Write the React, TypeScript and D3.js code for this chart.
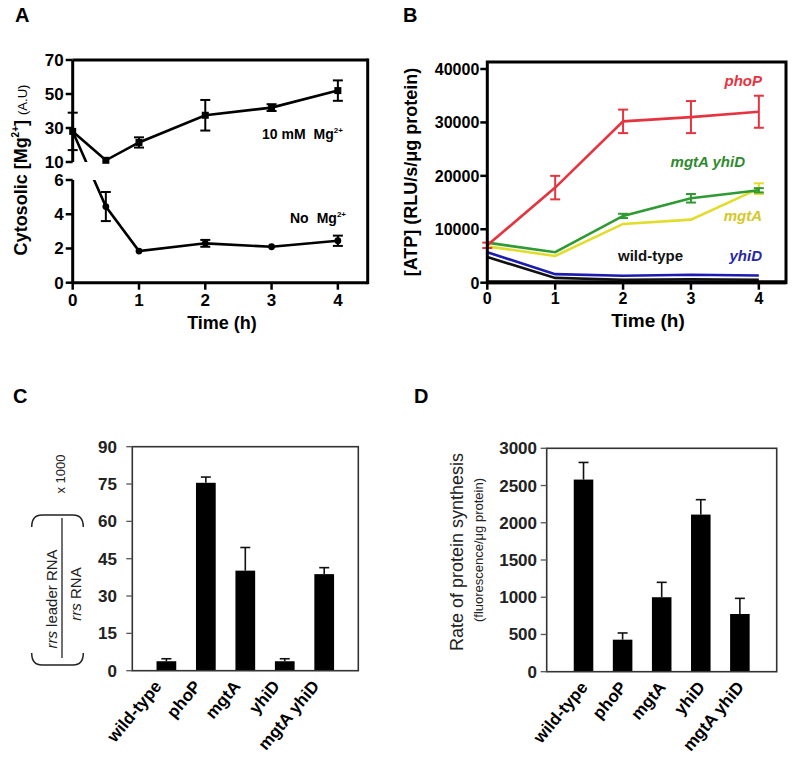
import React from 'react';
import * as d3 from 'd3';

const FONT = '"Liberation Sans", Arial, Helvetica, sans-serif';

// ---------- Panel A data ----------
const timesA = [0, 0.5, 1, 2, 3, 4];
const mg10Mean = [28, 11, 21.5, 37.5, 42, 52];
const mg10Err = [11, 1, 3, 9, 2, 6];
const noMgMean = [28, 4.45, 1.85, 2.3, 2.1, 2.45];
const noMgErr = [0, 0.85, 0.08, 0.2, 0.06, 0.3];
const noMgOnUpperAxis = [true, false, false, false, false, false];
const ticksAUpper = [10, 30, 50, 70];
const ticksALower = [0, 2, 4, 6];
const ticksTime = [0, 1, 2, 3, 4];

// ---------- Panel B data ----------
const timesB = [0, 1, 2, 3, 4];
const atpPhoP = [7000, 17800, 30200, 31000, 32000];
const atpPhoPErr = [500, 2200, 2200, 3000, 3000];
const atpMgtAYhiD = [7500, 5700, 12500, 15800, 17300];
const atpMgtAYhiDErr = [300, 300, 400, 800, 400];
const atpMgtA = [6800, 5000, 11000, 11800, 17600];
const atpMgtAErr = [300, 300, 300, 300, 1000];
const atpWild = [4800, 900, 550, 650, 550];
const atpYhiD = [5700, 1600, 1300, 1500, 1350];
const ticksB = [0, 10000, 20000, 30000, 40000];

// ---------- Panel C / D data ----------
const strains = ['wild-type', 'phoP', 'mgtA', 'yhiD', 'mgtA yhiD'];
const rrsMean = [3.8, 75.5, 40.2, 3.8, 38.8];
const rrsErr = [1.0, 2.3, 9.3, 1.0, 2.6];
const ticksC = [0, 15, 30, 45, 60, 75, 90];
const synthMean = [2580, 430, 1000, 2110, 775];
const synthErr = [230, 90, 200, 200, 210];
const ticksD = [0, 500, 1000, 1500, 2000, 2500, 3000];

const RED = '#e5343f';
const GREEN = '#2f9a34';
const YELLOW = '#e2dc2a';
const BLUE = '#1c1cb0';

function PanelA() {
  const x = d3.scaleLinear().domain([0, 4.45]).range([72.7, 367.7]);
  const yUp = d3.scaleLinear().domain([10, 70]).range([162, 60]);
  const yLo = d3.scaleLinear().domain([0, 6]).range([282.7, 180]);
  const mg10Pts: [number, number][] = timesA.map((t, i) => [x(t), yUp(mg10Mean[i])]);
  const noPts: [number, number][] = timesA.map((t, i) => [
    x(t),
    noMgOnUpperAxis[i] ? yUp(noMgMean[i]) : yLo(noMgMean[i]),
  ]);
  const line = d3.line();
  const x0 = x(0);
  const x1 = 367.7;
  return (
    <g>
      <defs>
        <clipPath id="gapClip">
          <rect x={0} y={0} width={400} height={yUp(10)} />
          <rect x={0} y={yLo(6)} width={400} height={200} />
        </clipPath>
      </defs>
      <text x={15} y={22} fontSize={20} fontWeight="bold" fontFamily={FONT}>A</text>
      {/* frame */}
      <line x1={x0} x2={x1} y1={yUp(70)} y2={yUp(70)} stroke="#000" strokeWidth={3} />
      <line x1={x1} x2={x1} y1={yUp(70) - 1.5} y2={yLo(0) + 1.5} stroke="#000" strokeWidth={3} />
      <line x1={x0} x2={x1} y1={yLo(0)} y2={yLo(0)} stroke="#000" strokeWidth={3} />
      <line x1={x0} x2={x0} y1={yUp(70)} y2={yUp(10)} stroke="#000" strokeWidth={3} />
      <line x1={x0} x2={x0} y1={yLo(6)} y2={yLo(0)} stroke="#000" strokeWidth={3} />
      {ticksAUpper.map((v) => (
        <g key={'u' + v}>
          <line x1={x0 - 7} x2={x0} y1={yUp(v)} y2={yUp(v)} stroke="#000" strokeWidth={2.5} />
          <text x={x0 - 9} y={yUp(v) + 6} textAnchor="end" fontSize={17} fontWeight="bold" fontFamily={FONT}>{v}</text>
        </g>
      ))}
      {ticksALower.map((v) => (
        <g key={'l' + v}>
          <line x1={x0 - 7} x2={x0} y1={yLo(v)} y2={yLo(v)} stroke="#000" strokeWidth={2.5} />
          <text x={x0 - 9} y={yLo(v) + 6} textAnchor="end" fontSize={17} fontWeight="bold" fontFamily={FONT}>{v}</text>
        </g>
      ))}
      {ticksTime.map((t) => (
        <g key={'t' + t}>
          <line x1={x(t)} x2={x(t)} y1={yLo(0)} y2={yLo(0) + 7} stroke="#000" strokeWidth={2.5} />
          <text x={x(t)} y={306} textAnchor="middle" fontSize={17} fontWeight="bold" fontFamily={FONT}>{t}</text>
        </g>
      ))}
      <text x={222} y={329} textAnchor="middle" fontSize={18} fontWeight="bold" fontFamily={FONT}>Time (h)</text>
      <text transform={`translate(27,170) rotate(-90)`} textAnchor="middle" fontSize={18} fontWeight="bold" fontFamily={FONT}>
        Cytosolic [Mg<tspan fontSize={10} dy={-8}>2+</tspan><tspan dy={8}>] </tspan>
        <tspan fontSize={13} fontWeight="normal">(A.U)</tspan>
      </text>
      {/* lines */}
      <path d={line(mg10Pts) || ''} fill="none" stroke="#000" strokeWidth={2.6} />
      <path d={line(noPts) || ''} fill="none" stroke="#000" strokeWidth={2.6} clipPath="url(#gapClip)" />
      {/* error bars */}
      {timesA.map((t, i) => {
        const e = mg10Err[i];
        if (e < 1.5) return null;
        const yt = yUp(mg10Mean[i] + e);
        const yb = yUp(mg10Mean[i] - e);
        return (
          <g key={'e1' + i} stroke="#000" strokeWidth={2}>
            <line x1={x(t)} x2={x(t)} y1={yt} y2={yb} />
            <line x1={x(t) - 5} x2={x(t) + 5} y1={yt} y2={yt} />
            <line x1={x(t) - 5} x2={x(t) + 5} y1={yb} y2={yb} />
          </g>
        );
      })}
      {timesA.map((t, i) => {
        const e = noMgErr[i];
        if (noMgOnUpperAxis[i] || e < 0.1) return null;
        const yt = yLo(noMgMean[i] + e);
        const yb = yLo(noMgMean[i] - e);
        return (
          <g key={'e2' + i} stroke="#000" strokeWidth={2}>
            <line x1={x(t)} x2={x(t)} y1={yt} y2={yb} />
            <line x1={x(t) - 5} x2={x(t) + 5} y1={yt} y2={yt} />
            <line x1={x(t) - 5} x2={x(t) + 5} y1={yb} y2={yb} />
          </g>
        );
      })}
      {mg10Pts.map((p, i) => (
        <rect key={'m1' + i} x={p[0] - 3.5} y={p[1] - 3.5} width={7} height={7} fill="#000" />
      ))}
      {noPts.map((p, i) =>
        noMgOnUpperAxis[i] ? null : <circle key={'m2' + i} cx={p[0]} cy={p[1]} r={3.4} fill="#000" />
      )}
      <text x={262} y={138.5} fontSize={14} fontWeight="bold" fontFamily={FONT}>
        10 mM<tspan dx={8}>Mg</tspan><tspan fontSize={8} dy={-6}>2+</tspan>
      </text>
      <text x={290} y={222.5} fontSize={14} fontWeight="bold" fontFamily={FONT}>
        No<tspan dx={8}>Mg</tspan><tspan fontSize={8} dy={-6}>2+</tspan>
      </text>
    </g>
  );
}

function PanelB() {
  const x = d3.scaleLinear().domain([0, 4.4]).range([487.3, 786]);
  const y = d3.scaleLinear().domain([0, 40000]).range([282.7, 69]);
  const top = 62;
  const line = d3.line<number>().x((_, i) => x(timesB[i])).y((v) => y(v));
  const series = [
    { vals: atpWild, err: null as number[] | null, color: '#111' },
    { vals: atpYhiD, err: null, color: BLUE },
    { vals: atpMgtA, err: atpMgtAErr, color: YELLOW },
    { vals: atpMgtAYhiD, err: atpMgtAYhiDErr, color: GREEN },
    { vals: atpPhoP, err: atpPhoPErr, color: RED },
  ];
  return (
    <g>
      <text x={403} y={22} fontSize={20} fontWeight="bold" fontFamily={FONT}>B</text>
      {series.map((s, k) => (
        <g key={'s' + k}>
          <path d={line(s.vals) || ''} fill="none" stroke={s.color} strokeWidth={2.6} />
          {s.err &&
            s.vals.map((v, i) => {
              const e = s.err![i];
              if (e < 400) return null;
              const xt = x(timesB[i]);
              const yt = y(v + e);
              const yb = y(v - e);
              return (
                <g key={'e' + i} stroke={s.color} strokeWidth={2}>
                  <line x1={xt} x2={xt} y1={yt} y2={yb} />
                  <line x1={xt - 5} x2={xt + 5} y1={yt} y2={yt} />
                  <line x1={xt - 5} x2={xt + 5} y1={yb} y2={yb} />
                </g>
              );
            })}
        </g>
      ))}
      <rect x={x(0)} y={top} width={786 - x(0)} height={y(0) - top} fill="none" stroke="#000" strokeWidth={3} />
      <line x1={x(0)} x2={786} y1={y(0) - 0.5} y2={y(0) - 0.5} stroke="#000" strokeWidth={4} />
      {ticksB.map((v) => (
        <g key={'yb' + v}>
          <line x1={x(0) - 7} x2={x(0)} y1={y(v)} y2={y(v)} stroke="#000" strokeWidth={2.5} />
          <text x={x(0) - 8} y={y(v) + 6} textAnchor="end" fontSize={16} fontWeight="bold" fontFamily={FONT}>{v}</text>
        </g>
      ))}
      {ticksTime.map((t) => (
        <g key={'xb' + t}>
          <line x1={x(t)} x2={x(t)} y1={y(0)} y2={y(0) + 7} stroke="#000" strokeWidth={2.5} />
          <text x={x(t)} y={304} textAnchor="middle" fontSize={16} fontWeight="bold" fontFamily={FONT}>{t}</text>
        </g>
      ))}
      <text x={648} y={327} textAnchor="middle" fontSize={19} fontWeight="bold" fontFamily={FONT}>Time (h)</text>
      <text transform={`translate(416.5,172) rotate(-90)`} textAnchor="middle" fontSize={18} fontWeight="bold" fontFamily={FONT}>
        [ATP] (RLU/s/μg protein)
      </text>
      <text x={762} y={86} textAnchor="end" fontSize={15} fontWeight="bold" fontStyle="italic" fill={RED} fontFamily={FONT}>phoP</text>
      <text x={745} y={167} textAnchor="end" fontSize={15} fontWeight="bold" fontStyle="italic" fill="#2e8a2e" fontFamily={FONT}>mgtA yhiD</text>
      <text x={762} y={221} textAnchor="end" fontSize={15} fontWeight="bold" fontStyle="italic" fill="#d6c826" fontFamily={FONT}>mgtA</text>
      <text x={683} y={261} textAnchor="end" fontSize={15} fontWeight="bold" fill="#111" fontFamily={FONT}>wild-type</text>
      <text x={762} y={261} textAnchor="end" fontSize={15} fontWeight="bold" fontStyle="italic" fill="#2727a8" fontFamily={FONT}>yhiD</text>
    </g>
  );
}

function BarPanel(props: {
  left: number; right: number; top: number; bottom: number; pad: number;
  max: number; ticks: number[]; means: number[]; errs: number[]; labelShift: number; tickLabelX: number;
}) {
  const { left, right, top, bottom, pad, max, ticks, means, errs, labelShift, tickLabelX } = props;
  const y = d3.scaleLinear().domain([0, max]).range([bottom, top]);
  const x = d3.scaleBand<string>().domain(strains).range([left + pad, right - pad]).padding(0.5);
  return (
    <g>
      {strains.map((s, i) => {
        const cx = (x(s) as number) + x.bandwidth() / 2;
        const yt = y(means[i] + errs[i]);
        return (
          <g key={s}>
            <line x1={cx} x2={cx} y1={y(means[i])} y2={yt} stroke="#111" strokeWidth={1.6} />
            <line x1={cx - 5} x2={cx + 5} y1={yt} y2={yt} stroke="#111" strokeWidth={1.6} />
            <rect x={x(s)} y={y(means[i])} width={x.bandwidth()} height={bottom - y(means[i])} fill="#000" />
            <text
              transform={`translate(${cx + labelShift},${bottom + 16}) rotate(-50)`}
              textAnchor="end"
              fontSize={17}
              fontWeight="bold"
              fontFamily={FONT}
            >
              {s}
            </text>
          </g>
        );
      })}
      <rect x={left} y={top} width={right - left} height={bottom - top} fill="none" stroke="#333" strokeWidth={1.6} />
      {ticks.map((v) => (
        <g key={v}>
          <line x1={left - 6} x2={left} y1={y(v)} y2={y(v)} stroke="#555" strokeWidth={1.3} />
          <text x={tickLabelX} y={y(v) + 6} textAnchor="end" fontSize={17} fontWeight="bold" fill="#222" fontFamily={FONT}>{v}</text>
        </g>
      ))}
    </g>
  );
}

function PanelC() {
  return (
    <g>
      <text x={13} y={403} fontSize={20} fontWeight="bold" fontFamily={FONT}>C</text>
      <BarPanel left={132.3} right={358.3} top={446.7} bottom={670.7} pad={4.5} max={90} ticks={ticksC}
        means={rrsMean} errs={rrsErr} labelShift={-4} tickLabelX={117} />
      <g fontFamily={FONT} fill="#222">
        <text transform="translate(57,599) rotate(-90)" textAnchor="middle" fontSize={15}>
          <tspan fontStyle="italic">rrs</tspan> leader RNA
        </text>
        <text transform="translate(80.5,594) rotate(-90)" textAnchor="middle" fontSize={15}>
          <tspan fontStyle="italic">rrs</tspan> RNA
        </text>
        <text transform="translate(64.5,474) rotate(-90)" textAnchor="middle" fontSize={13}>x 1000</text>
      </g>
      <line x1={62} x2={62} y1={518} y2={658} stroke="#222" strokeWidth={1.3} />
      <path d="M31.7,527 Q31.7,515 42,515 L73,515 Q83.3,515 83.3,527" fill="none" stroke="#222" strokeWidth={1.5} />
      <path d="M31.7,653 Q31.7,665 42,665 L73,665 Q83.3,665 83.3,653" fill="none" stroke="#222" strokeWidth={1.5} />
    </g>
  );
}

function PanelD() {
  return (
    <g>
      <text x={414} y={403} fontSize={20} fontWeight="bold" fontFamily={FONT}>D</text>
      <BarPanel left={546.7} right={776.7} top={448.3} bottom={671.7} pad={7.5} max={3000} ticks={ticksD}
        means={synthMean} errs={synthErr} labelShift={5} tickLabelX={537} />
      <text transform="translate(463,552) rotate(-90)" textAnchor="middle" fontSize={18} fill="#222" fontFamily={FONT}>
        Rate of protein synthesis
      </text>
      <text transform="translate(483,550) rotate(-90)" textAnchor="middle" fontSize={13} fill="#222" fontFamily={FONT}>
        (fluorescence/μg protein)
      </text>
    </g>
  );
}

export default function App() {
  return (
    <svg width={800} height={771} viewBox="0 0 800 771"
      style={{ position: 'absolute', left: 0, top: 0, background: '#fff' }}>
      <rect width={800} height={771} fill="#fff" />
      <PanelA />
      <PanelB />
      <PanelC />
      <PanelD />
    </svg>
  );
}
